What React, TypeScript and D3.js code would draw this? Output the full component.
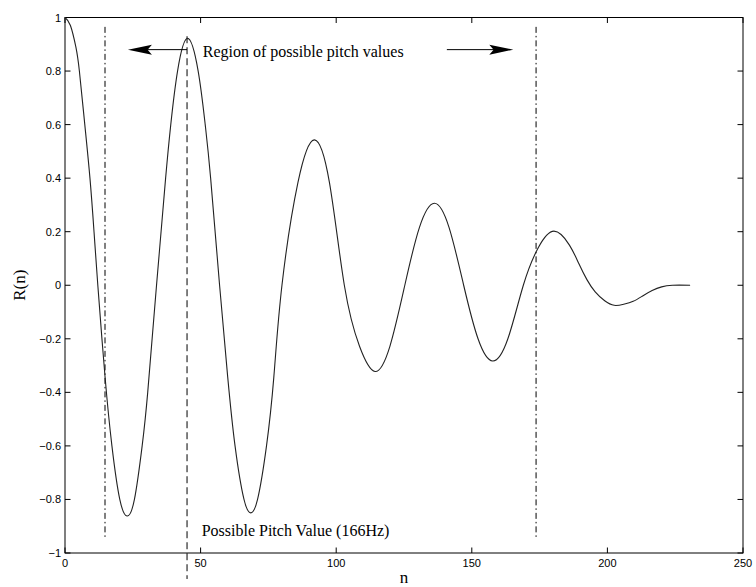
import React from "react";
import * as d3 from "d3";

// ---- data ----
const LAG_N = [
  0, 2, 4, 5.3, 7.3, 9.2, 10.7, 12.1, 14.75, 17.3, 20.2, 22.9, 25.6, 28.45, 30.5, 33.75,
  37.1, 39, 41.5, 45.2, 49.1, 51.7, 53.7, 57, 60, 62.7, 66, 68.5, 71, 74.3, 77, 80,
  85.9, 91.9, 97.5, 103, 108.6, 114.3, 119.8, 125.3, 130.7, 136.2, 141.6, 147,
  152.3, 157.7, 163.3, 169, 174.5, 180.3, 186, 189.5, 192.5, 195.5, 199, 202.5,
  206, 209.5, 213, 216.5, 220, 224, 230.5,
];
const R_VALUES = [
  1, 0.97, 0.89, 0.8, 0.6, 0.4, 0.2, 0, -0.34, -0.6, -0.8, -0.862, -0.8, -0.6, -0.4, 0,
  0.4, 0.6, 0.8, 0.922, 0.8, 0.6, 0.4, 0, -0.343, -0.6, -0.8, -0.85, -0.8, -0.6, -0.343, 0,
  0.384, 0.543, 0.384, 0, -0.228, -0.322, -0.228, 0, 0.216, 0.306, 0.216, 0,
  -0.2, -0.283, -0.2, 0, 0.14, 0.202, 0.15, 0.08, 0.02, -0.025, -0.058, -0.075,
  -0.071, -0.06, -0.04, -0.02, -0.006, 0, 0,
];

const X_TICKS = [0, 50, 100, 150, 200, 250];
const X_TICK_LABELS = ["0", "50", "100", "150", "200", "250"];
const Y_TICKS = [-1, -0.8, -0.6, -0.4, -0.2, 0, 0.2, 0.4, 0.6, 0.8, 1];
const Y_TICK_LABELS = [
  "\u22121", "\u22120.8", "\u22120.6", "\u22120.4", "\u22120.2", "0",
  "0.2", "0.4", "0.6", "0.8", "1",
];

// annotation lines (in data units)
const REGION_LOW_N = 14.75;
const REGION_HIGH_N = 173.7;
const PITCH_N = 45;

const REGION_TEXT = "Region of possible pitch values";
const PITCH_TEXT = "Possible Pitch Value (166Hz)";
const X_LABEL = "n";
const Y_LABEL = "R(n)";

const W = 756;
const H = 587;
const M = { left: 65, right: 743, top: 17.5, bottom: 553 };

export default function App() {
  const x = d3.scaleLinear().domain([0, 250]).range([M.left, M.right]);
  const y = d3.scaleLinear().domain([-1, 1]).range([M.bottom, M.top]);

  const pts: [number, number][] = LAG_N.map((n, i) => [n, R_VALUES[i]]);
  const line = d3
    .line<[number, number]>()
    .x((d) => x(d[0]))
    .y((d) => y(d[1]))
    .curve(d3.curveNatural);

  const tickLen = 5.5;
  const sans = "'Liberation Sans', Arial, Helvetica, sans-serif";
  const serif = "'Liberation Serif', 'Times New Roman', Times, serif";

  const arrowY = y(0.88);
  const leftTail = x(45.0);
  const leftTip = x(23.2);
  const rightTail = x(140.8);
  const rightTip = x(165.3);
  const aL = 24;
  const aW = 5;

  const arrowHead = (tip: number, dir: number) =>
    `M${tip},${arrowY} L${tip + dir * aL},${arrowY - aW} L${tip + dir * aL * 0.82},${arrowY} L${tip + dir * aL},${arrowY + aW} Z`;

  return (
    <svg
      width={W}
      height={H}
      style={{ position: "absolute", left: 0, top: 0, background: "#fff" }}
    >
      <rect x={0} y={0} width={W} height={H} fill="#fff" />

      {/* axes box */}
      <rect
        x={M.left}
        y={M.top}
        width={M.right - M.left}
        height={M.bottom - M.top}
        fill="none"
        stroke="#000"
        strokeWidth={1}
      />

      {/* x ticks */}
      {X_TICKS.map((t, i) => (
        <g key={"xt" + i}>
          <line x1={x(t)} x2={x(t)} y1={M.bottom} y2={M.bottom - tickLen} stroke="#000" />
          <line x1={x(t)} x2={x(t)} y1={M.top} y2={M.top + tickLen} stroke="#000" />
          <text
            x={x(t)}
            y={M.bottom + 14}
            textAnchor="middle"
            fontFamily={sans}
            fontSize={11}
            fill="#000"
          >
            {X_TICK_LABELS[i]}
          </text>
        </g>
      ))}

      {/* y ticks */}
      {Y_TICKS.map((t, i) => (
        <g key={"yt" + i}>
          <line x1={M.left} x2={M.left + tickLen} y1={y(t)} y2={y(t)} stroke="#000" />
          <line x1={M.right} x2={M.right - tickLen} y1={y(t)} y2={y(t)} stroke="#000" />
          <text
            x={M.left - 4}
            y={y(t) + 4}
            textAnchor="end"
            fontFamily={sans}
            fontSize={11}
            fill="#000"
          >
            {Y_TICK_LABELS[i]}
          </text>
        </g>
      ))}

      {/* axis labels */}
      <text x={(M.left + M.right) / 2} y={583} textAnchor="middle" fontFamily={serif} fontSize={17} fill="#000">
        {X_LABEL}
      </text>
      <text
        transform={`translate(25,${y(0)}) rotate(-90)`}
        textAnchor="middle"
        fontFamily={serif}
        fontSize={17}
        fill="#000"
      >
        {Y_LABEL}
      </text>

      {/* region bounds (dash-dot) */}
      {[REGION_LOW_N, REGION_HIGH_N].map((n, i) => (
        <line
          key={"rb" + i}
          x1={x(n)}
          x2={x(n)}
          y1={y(0.965)}
          y2={y(-0.944)}
          stroke="#000"
          strokeWidth={1}
          strokeDasharray="6,3,1.5,3"
        />
      ))}

      {/* pitch marker (dashed) */}
      <line
        x1={x(PITCH_N)}
        x2={x(PITCH_N)}
        y1={y(0.93)}
        y2={y(-1.097)}
        stroke="#000"
        strokeWidth={1}
        strokeDasharray="7,4"
      />

      {/* curve */}
      <path d={line(pts) || ""} fill="none" stroke="#222" strokeWidth={1.1} />

      {/* arrows */}
      <line x1={leftTail} x2={leftTip + aL * 0.8} y1={arrowY} y2={arrowY} stroke="#000" strokeWidth={1} />
      <path d={arrowHead(leftTip, 1)} fill="#000" />
      <line x1={rightTail} x2={rightTip - aL * 0.8} y1={arrowY} y2={arrowY} stroke="#000" strokeWidth={1} />
      <path d={arrowHead(rightTip, -1)} fill="#000" />

      {/* annotation text */}
      <text x={x(50.8)} y={y(0.854)} fontFamily={serif} fontSize={16} fill="#000">
        {REGION_TEXT}
      </text>
      <text x={x(50.4)} y={y(-0.936)} fontFamily={serif} fontSize={16} fill="#000">
        {PITCH_TEXT}
      </text>
    </svg>
  );
}
